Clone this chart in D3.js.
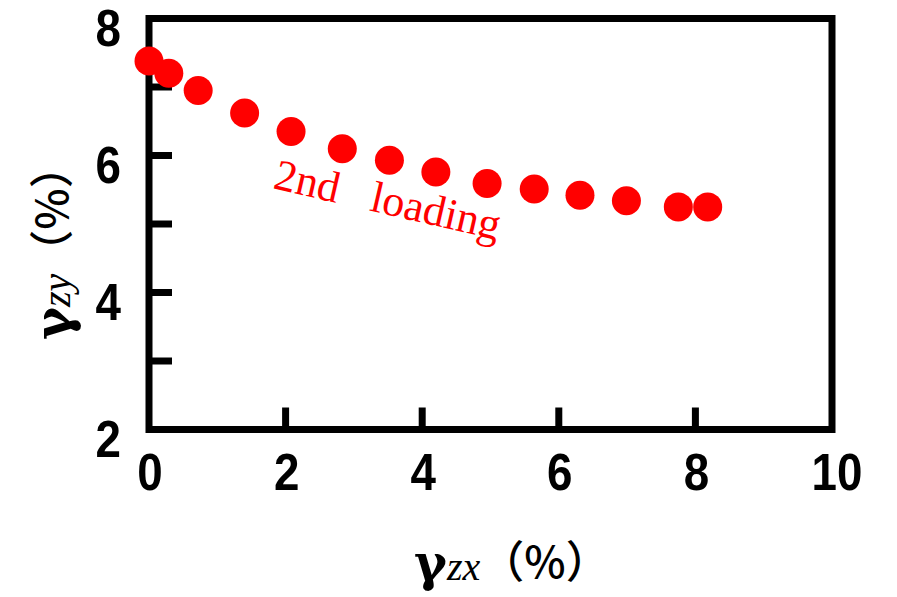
<!doctype html>
<html>
<head>
<meta charset="UTF-8">
<title>gamma zy vs gamma zx</title>
<script src="https://d3js.org/d3.v7.min.js"></script>
<style>
  body { margin:0; background:#fff; }
  svg { display:block; }
</style>
</head>
<body>
<script>
// data
var gzx = [0.0, 0.29, 0.72, 1.40, 2.08, 2.83, 3.52, 4.20, 4.95, 5.64, 6.31, 6.99, 7.75, 8.18];
var gzy = [7.38, 7.20, 6.95, 6.62, 6.35, 6.10, 5.93, 5.76, 5.59, 5.51, 5.42, 5.34, 5.25, 5.25];
var xTicks = [0, 2, 4, 6, 8, 10];
var yTicks = [2, 4, 6, 8];
var yMinor = [3, 5, 7];

var w = 897, h = 597;
var pLeft = 149, pRight = 832, pTop = 18.5, pBottom = 429.5;

var svg = d3.select("body").append("svg").attr("width", w).attr("height", h);

var x = d3.scaleLinear().domain([0, 10]).range([pLeft, pRight]);
var y = d3.scaleLinear().domain([2, 8]).range([pBottom, pTop]);

// frame
svg.append("rect")
  .attr("x", pLeft).attr("y", pTop)
  .attr("width", pRight - pLeft).attr("height", pBottom - pTop)
  .attr("fill", "none").attr("stroke", "#000").attr("stroke-width", 7);

// ticks (inward)
svg.selectAll(".xt").data(xTicks.slice(1, 5)).enter().append("line")
  .attr("x1", function(d){ return x(d); }).attr("x2", function(d){ return x(d); })
  .attr("y1", pBottom).attr("y2", pBottom - 22)
  .attr("stroke", "#000").attr("stroke-width", 7);

svg.selectAll(".yt").data(yMinor.concat([4, 6])).enter().append("line")
  .attr("x1", pLeft).attr("x2", pLeft + 23)
  .attr("y1", function(d){ return y(d); }).attr("y2", function(d){ return y(d); })
  .attr("stroke", "#000").attr("stroke-width", 7);

// tick labels
svg.selectAll(".xl").data(xTicks).enter().append("text")
  .attr("transform", function(d){ return "translate(" + (x(d) + (d == 10 ? 5 : 1)) + ",490) scale(0.88,1)"; })
  .attr("text-anchor", "middle")
  .attr("font-family", "Liberation Sans, Arial, sans-serif")
  .attr("font-weight", "bold")
  .attr("font-size", 52)
  .text(function(d){ return d; });

svg.selectAll(".yl").data(yTicks).enter().append("text")
  .attr("transform", function(d){ return "translate(121," + (y(d) + 27) + ") scale(0.88,1)"; })
  .attr("text-anchor", "end")
  .attr("font-family", "Liberation Sans, Arial, sans-serif")
  .attr("font-weight", "bold")
  .attr("font-size", 52)
  .text(function(d){ return d; });

// points
svg.selectAll("circle").data(gzx).enter().append("circle")
  .attr("cx", function(d){ return x(d); })
  .attr("cy", function(d, i){ return y(gzy[i]); })
  .attr("r", 14.5)
  .attr("fill", "#ff0000");

// annotation
svg.append("text")
  .attr("transform", "translate(272,188) rotate(13)")
  .attr("font-family", "Liberation Serif, Times New Roman, serif")
  .attr("font-size", 44)
  .attr("fill", "#ff0000")
  .style("white-space", "pre")
  .text("2nd   loading");

// axis titles
function title(g, sub) {
  g.append("tspan").attr("font-family", "DejaVu Serif, serif")
    .attr("font-weight", "bold").attr("font-size", 50).text("γ");
  g.append("tspan").attr("font-family", "Liberation Serif, Times New Roman, serif")
    .attr("font-style", "italic").attr("font-size", 40).text(sub);
  g.append("tspan").attr("font-family", "Noto Sans CJK JP, sans-serif")
    .attr("font-weight", 500).attr("font-size", 44).attr("dy", -2).text("（%）");
}
var xt = svg.append("text").attr("x", 414).attr("y", 580);
title(xt, "zx");

var yt = svg.append("text").attr("transform", "translate(70,340) rotate(-90)");
title(yt, "zy");
</script>
</body>
</html>
